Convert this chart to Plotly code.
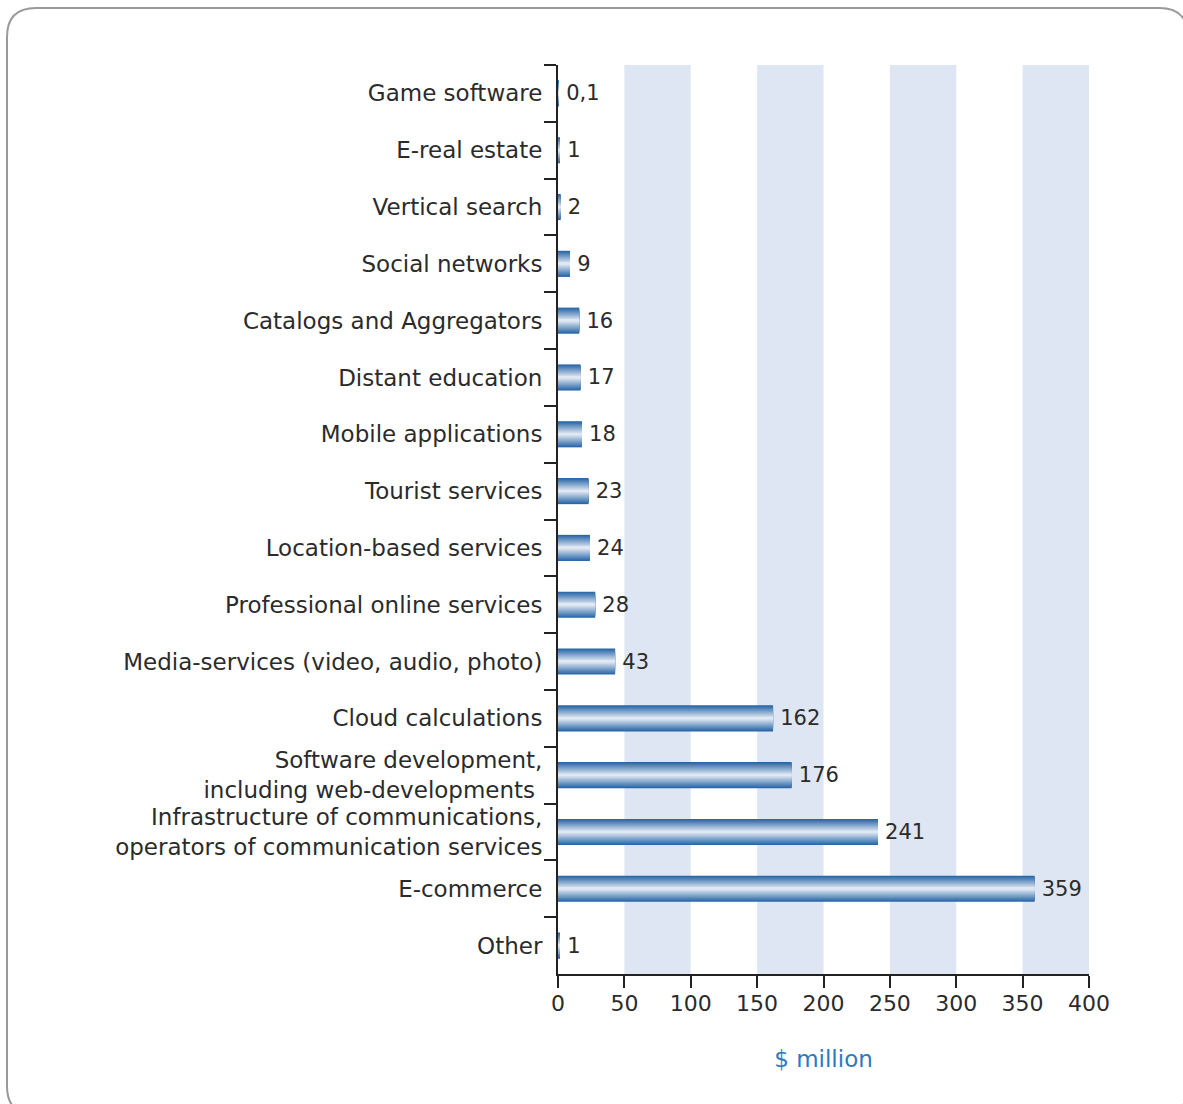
import plotly.graph_objects as go

categories = [
    "Game software",
    "E-real estate",
    "Vertical search",
    "Social networks",
    "Catalogs and Aggregators",
    "Distant education",
    "Mobile applications",
    "Tourist services",
    "Location-based services",
    "Professional online services",
    "Media-services (video, audio, photo)",
    "Cloud calculations",
    "Software development,<br>including web-developments ",
    "Infrastructure of communications,<br>operators of communication services",
    "E-commerce",
    "Other",
]
values = [0.1, 1, 2, 9, 16, 17, 18, 23, 24, 28, 43, 162, 176, 241, 359, 1]
value_labels = ["0,1", "1", "2", "9", "16", "17", "18", "23", "24", "28", "43",
                "162", "176", "241", "359", "1"]
x_ticks = [0, 50, 100, 150, 200, 250, 300, 350, 400]
bands = [(50, 100), (150, 200), (250, 300), (350, 400)]

FONT = "DejaVu Sans"
TXT = "#2b2b2b"
W, H = 1183, 1104
L, R, T, B = 558, 1089, 65, 974

fig = go.Figure()

# gradient bars: overlaid bars of decreasing width and lighter colour
N = 14
BW = 0.46
dark = (40, 102, 166)
light = (224, 232, 243)
for i in range(N):
    f = i / (N - 1)
    c = tuple(int(round(d + (l - d) * f)) for d, l in zip(dark, light))
    w = BW * (1 - i / N)
    kw = {}
    if i == 0:
        kw = dict(text=["\u2009" + t for t in value_labels], textposition="outside",
                  textfont=dict(family=FONT, size=21, color=TXT),
                  cliponaxis=False, constraintext="none")
    fig.add_trace(go.Bar(
        y=categories, x=values, orientation="h",
        width=[w] * len(values),
        marker=dict(color="rgb(%d,%d,%d)" % c, line=dict(width=0)),
        showlegend=False, hoverinfo="skip" if i else "x+y",
        **kw,
    ))

shapes = []
for a, b in bands:
    shapes.append(dict(type="rect", xref="x", yref="paper", x0=a, x1=b, y0=0, y1=1,
                       fillcolor="#dfe6f3", line=dict(width=0), layer="below"))

# rounded border around the whole picture (pixel -> paper)
def px(x):
    return (x - L) / (R - L)

def py(y):
    return (B - y) / (B - T)

x0b, x1b, y0b, y1b, r = 7, 1188, 8, 1115, 29
path = (f"M {px(x0b + r)},{py(y0b)} L {px(x1b - r)},{py(y0b)} "
        f"Q {px(x1b)},{py(y0b)} {px(x1b)},{py(y0b + r)} "
        f"L {px(x1b)},{py(y1b - r)} Q {px(x1b)},{py(y1b)} {px(x1b - r)},{py(y1b)} "
        f"L {px(x0b + r)},{py(y1b)} Q {px(x0b)},{py(y1b)} {px(x0b)},{py(y1b - r)} "
        f"L {px(x0b)},{py(y0b + r)} Q {px(x0b)},{py(y0b)} {px(x0b + r)},{py(y0b)} Z")
shapes.append(dict(type="path", xref="paper", yref="paper", path=path,
                   line=dict(color="#9a9a9a", width=2), layer="below"))

fig.update_layout(
    width=W, height=H,
    margin=dict(l=L, r=W - R, t=T, b=H - B),
    paper_bgcolor="white", plot_bgcolor="white",
    barmode="overlay",
    shapes=shapes,
    font=dict(family=FONT, size=23, color=TXT),
    xaxis=dict(
        range=[0, 400], tickvals=x_ticks, ticks="outside", ticklen=12, tickwidth=2,
        tickcolor="#222", showline=True, linecolor="#222", linewidth=2,
        showgrid=False, zeroline=False, ticklabelstandoff=-3,
        tickfont=dict(family=FONT, size=22, color=TXT),
        title=dict(text="$ million", font=dict(family=FONT, size=23, color="#2f78c0"),
                   standoff=35),
    ),
    yaxis=dict(
        type="category", categoryorder="array", categoryarray=categories,
        range=[len(categories) - 0.5, -0.5],
        ticks="outside", ticklen=12, tickwidth=2, tickcolor="#222",
        tickson="boundaries", showline=True, linecolor="#222", linewidth=2,
        showgrid=False, zeroline=False, ticklabelstandoff=9,
        tickfont=dict(family=FONT, size=23, color=TXT),
    ),
)

fig.write_html("out.html")
